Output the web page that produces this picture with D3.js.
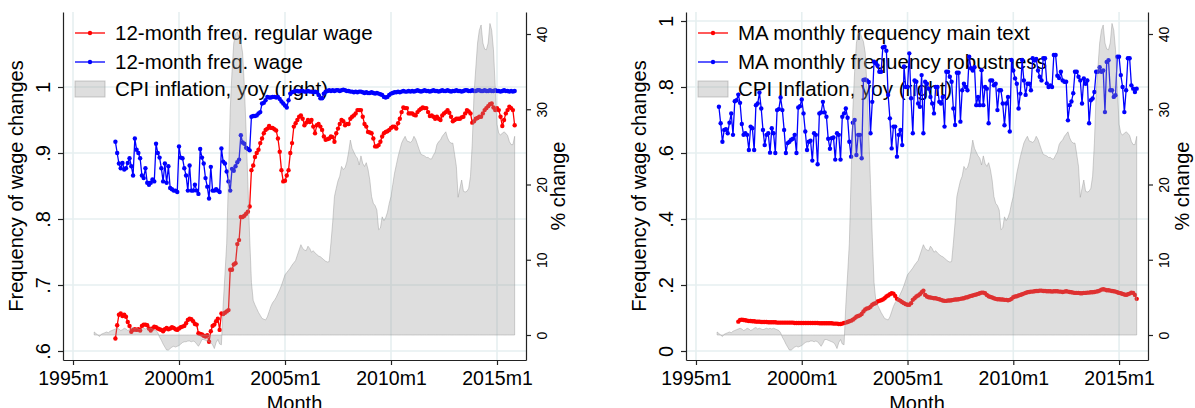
<!DOCTYPE html>
<html>
<head>
<meta charset="utf-8">
<script src="https://cdnjs.cloudflare.com/ajax/libs/d3/7.8.5/d3.min.js"></script>
<style>
body { margin: 0; background: #fff; }
text { font-family: 'Liberation Sans', Arial, Helvetica, sans-serif; fill: #000; }
</style>
</head>
<body>
<div id="visual"></div>
<script>
// x axis
var xTickYears = [1995, 2000, 2005, 2010, 2015];
var xTickLabels = ['1995m1', '2000m1', '2005m1', '2010m1', '2015m1'];

// y ticks
var leftTicks = [0.6, 0.7, 0.8, 0.9, 1];
var leftTickLabels = ['.6', '.7', '.8', '.9', '1'];
var rightPanelTicks = [0, 0.2, 0.4, 0.6, 0.8, 1];
var rightPanelTickLabels = ['0', '.2', '.4', '.6', '.8', '1'];
var cpiTicks = [0, 10, 20, 30, 40];

var legendLeft = ['12-month freq. regular wage', '12-month freq. wage', 'CPI inflation, yoy (right)'];
var legendRight = ['MA monthly frequency main text', 'MA monthly frequency robustness', 'CPI Inflation, yoy (right)'];

// monthly, 1997m1 - 2015m11
var freqStart = [1997, 1];
var freqRegular = [
    .619, .639, .655, .657, .653, .655, .652, .644, .638, .629, .632, .633,
    .632, .633, .631, .638, .640, .640, .639, .634, .631, .634, .637, .636,
    .634, .633, .632, .630, .633, .635, .633, .634, .636, .635, .633, .632,
    .634, .636, .637, .638, .642, .647, .649, .648, .645, .641, .640, .627,
    .626, .625, .623, .622, .624, .614, .630, .638, .640, .645, .649, .632,
    .657, .656, .658, .660, .662, .723, .723, .731, .733, .762, .768, .803,
    .803, .805, .808, .811, .819, .874, .881, .894, .900, .905, .915, .922,
    .930, .935, .937, .941, .938, .938, .936, .934, .922, .902, .874, .857,
    .858, .866, .874, .900, .915, .940, .945, .950, .955, .957, .952, .942,
    .946, .950, .947, .950, .940, .930, .942, .944, .940, .935, .925, .920,
    .921, .922, .925, .924, .917, .930, .937, .944, .950, .948, .942, .944,
    .944, .952, .955, .957, .960, .965, .965, .965, .955, .944, .940, .932,
    .931, .930, .922, .910, .910, .912, .917, .925, .930, .932, .933, .935,
    .938, .940, .940, .937, .945, .952, .962, .969, .968, .968, .960, .960,
    .960, .958, .957, .962, .965, .967, .969, .968, .968, .962, .956, .957,
    .955, .952, .955, .952, .950, .957, .960, .962, .965, .961, .955, .948,
    .950, .952, .952, .952, .954, .955, .960, .965, .963, .960, .946, .948,
    .952, .953, .955, .955, .960, .965, .968, .971, .974, .975, .969, .965,
    .968, .965, .955, .941, .950, .960, .965, .970, .968, .965, .942
];
var freqWage = [
    .917, .900, .884, .877, .885, .875, .877, .885, .892, .880, .866, .922,
    .905, .900, .892, .866, .862, .877, .855, .852, .855, .860, .857, .914,
    .900, .893, .877, .857, .884, .855, .880, .847, .845, .843, .843, .841,
    .910, .893, .892, .877, .866, .843, .881, .843, .843, .852, .843, .838,
    .906, .893, .884, .862, .849, .831, .879, .843, .843, .845, .843, .841,
    .907, .887, .884, .872, .857, .843, .876, .873, .880, .886, .890, .927,
    .916, .914, .908, .906, .904, .955, .956, .956, .957, .960, .962, .975,
    .976, .980, .985, .984, .984, .985, .985, .984, .985, .982, .978, .975,
    .972, .969, .980, .990, .992, .993, .994, .994, .993, .994, .994, .993,
    .993, .994, .993, .993, .992, .993, .992, .988, .983, .983, .990, .993,
    .994, .995, .994, .995, .994, .995, .995, .994, .995, .996, .995, .994,
    .994, .993, .993, .992, .993, .992, .993, .993, .992, .991, .992, .991,
    .991, .992, .991, .990, .991, .990, .989, .988, .985, .984, .985, .988,
    .990, .991, .992, .992, .993, .992, .993, .994, .993, .993, .994, .993,
    .994, .993, .994, .995, .994, .993, .994, .995, .994, .994, .993, .994,
    .995, .994, .994, .993, .994, .995, .994, .994, .995, .994, .993, .994,
    .994, .995, .994, .994, .993, .994, .995, .995, .994, .994, .995, .994,
    .994, .995, .995, .994, .994, .995, .994, .994, .995, .994, .994, .995,
    .994, .994, .993, .994, .995, .994, .994, .993, .994, .993, .994
];

// monthly, 1997m1 - 2015m11
var maMainStart = [1997, 1];
var maMain = [
    .089, .094, .095, .094, .093, .092, .091, .091, .090, .090, .089, .089,
    .089, .088, .088, .088, .088, .087, .087, .087, .087, .087, .086, .086,
    .086, .086, .086, .086, .086, .086, .086, .086, .085, .085, .085, .085,
    .085, .085, .085, .085, .085, .085, .085, .085, .085, .085, .084, .084,
    .084, .084, .084, .084, .084, .084, .083, .083, .083, .082, .082, .083,
    .085, .086, .088, .090, .092, .095, .099, .104, .106, .108, .112, .120,
    .126, .129, .130, .134, .140, .143, .145, .150, .152, .154, .156, .160,
    .165, .168, .172, .175, .174, .167, .158, .155, .152, .148, .145, .142,
    .140, .140, .145, .155, .160, .165, .168, .172, .178, .183, .170, .165,
    .163, .162, .161, .160, .160, .158, .157, .155, .153, .152, .152, .153,
    .153, .154, .155, .156, .156, .157, .158, .159, .160, .162, .163, .165,
    .167, .168, .170, .171, .173, .175, .177, .177, .175, .170, .166, .164,
    .162, .160, .158, .157, .157, .156, .156, .155, .155, .154, .155, .158,
    .163, .165, .166, .168, .170, .172, .174, .176, .178, .179, .180, .180,
    .181, .182, .182, .183, .183, .182, .182, .181, .181, .181, .180, .181,
    .181, .181, .180, .180, .179, .180, .181, .180, .179, .178, .177, .176,
    .176, .176, .175, .175, .176, .176, .177, .177, .178, .178, .179, .180,
    .181, .183, .186, .187, .186, .184, .184, .183, .182, .181, .180, .178,
    .176, .175, .173, .171, .170, .172, .174, .177, .176, .170, .158
];

// monthly, 1996m2 - 2015m11
var maRobustStart = [1996, 2];
var maRobust = [
    .740, .690, .634, .670, .672, .660, .692, .720, .655, .757,
    .760, .777, .752, .688, .655, .660, .655, .609, .680, .675,
    .609, .745, .750, .783, .735, .670, .624, .655, .660, .601,
    .675, .660, .600, .730, .733, .768, .730, .670, .600, .630,
    .634, .640, .643, .655, .600, .738, .742, .762, .720, .665,
    .609, .634, .637, .577, .660, .655, .566, .720, .723, .755,
    .723, .710, .643, .613, .645, .647, .580, .660, .655, .580,
    .710, .720, .735, .707, .634, .589, .692, .700, .594, .655,
    .655, .584, .821, .823, .820, .815, .660, .755, .877, .872,
    .865, .846, .846, .920, .922, .910, .776, .705, .614, .680,
    .680, .589, .655, .670, .624, .862, .800, .800, .902, .766,
    .660, .820, .816, .750, .740, .836, .660, .816, .810, .795,
    .770, .750, .720, .800, .800, .755, .750, .770, .680, .846,
    .846, .831, .816, .735, .685, .843, .843, .695, .790, .810,
    .800, .790, .892, .857, .850, .860, .745, .770, .745, .851,
    .745, .800, .795, .690, .820, .820, .805, .810, .730, .790,
    .790, .750, .684, .750, .770, .665, .882, .850, .826, .810,
    .735, .780, .882, .820, .776, .810, .810, .790, .887, .880,
    .885, .850, .831, .820, .887, .887, .811, .800, .805, .800,
    .897, .897, .834, .827, .846, .820, .816, .816, .699, .745,
    .756, .781, .846, .846, .831, .820, .750, .826, .810, .820,
    .690, .760, .765, .785, .846, .846, .860, .846, .850, .724,
    .876, .881, .790, .790, .770, .775, .892, .892, .836, .800,
    .724, .790, .887, .887, .805, .795, .785, .795
];

// CPI inflation yoy, %, monthly, 1996m1 - 2015m11
var cpiStart = [1996, 1];
var cpiYoy = [
    .4, .2, 0, -.2, .1, .2, .3, .4, .3, .5, .6, .7,
    .8, .9, .8, .6, .7, .9, .8, .6, .7, .9, 1.0, .8,
    .9, .8, .7, .8, .9, .8, .9, .8, .9, .8, .7, .6,
    .3, -.3, -.7, -1.2, -1.6, -2.0, -2.0, -1.8, -1.6, -1.5, -1.6, -1.5,
    -1.4, -1.2, -1.0, -.9, -.9, -.8, -.8, -.9, -.8, -.9, -1.2, -1.5,
    -1.1, -.6, -.6, -.7, -.8, -.9, -1.0, -1.3, -1.8, -1.0, -.6, -1.2,
    -1.3, 4, 8, 12.2, 21, 30, 35, 38.8, 40, 40.3, 39.5, 39,
    37.5, 33, 27, 20, 13, 7, 4.6, 4.0, 3.5, 3.0, 2.6, 2.2,
    2.1, 2.0, 2.4, 3.1, 3.8, 4.3, 4.6, 5.0, 5.5, 6.0, 6.6, 7.3,
    8.0, 8.3, 8.6, 8.9, 9.3, 9.6, 9.9, 10.6, 11.3, 12, 11.5, 11.3,
    11.2, 11.8, 11.5, 11, 11.2, 10.9, 10.7, 10.5, 10.4, 10.2, 10, 9.8,
    9.7, 9.75, 12.2, 15, 18.4, 19.5, 20.5, 21.1, 22.4, 22, 22.2, 23,
    24.3, 25.9, 24.8, 24.3, 23.8, 23.5, 22.6, 23.8, 22.8, 22.4, 22.9, 22,
    20.6, 18.4, 17.5, 17.2, 16.6, 14, 14.2, 15.7, 15.2, 15.6, 16.3, 17.5,
    18.4, 20, 21.5, 22.6, 23.7, 24.6, 25.5, 26, 26.4, 25.8, 25.7, 25.6,
    25.8, 26.4, 26, 25.3, 24.6, 24, 23.9, 23.8, 23.6, 23.6, 23.4, 23.4,
    23.9, 24.3, 25.3, 25.7, 25.9, 26.4, 26.7, 27, 26.2, 25.7, 25.5, 25.5,
    24, 22.4, 18.3, 19.5, 20.6, 19.1, 19, 19.1, 19.5, 21.1, 25.5, 32.1,
    35.5, 38.8, 40.5, 41.2, 38.8, 38, 37.9, 38.8, 41.4, 40.5, 37.9, 33,
    28, 26.8, 26.6, 26.8, 27, 26.8, 26.5, 25.7, 25.3, 25.3, 26.4
];

var width = 1195, height = 408;
var plotTop = 12, plotBottom = 360;
var gridColour = '#e6eff0';

var svg = d3.select('#visual')
    .append('svg')
    .attr('width', width)
    .attr('height', height);

function toSeries(start, values) {
    return values.map(function (v, i) {
        return { t: start[0] + (start[1] - 1 + i) / 12, v: v };
    });
}

var cpiData = toSeries(cpiStart, cpiYoy);

var panels = [
    {
        left: 63, right: 526,
        yDomain: [0.6 - 9 / 660, 1 + 75 / 660],
        yTicks: leftTicks, yTickLabels: leftTickLabels,
        legend: legendLeft,
        series: [
            { data: toSeries(freqStart, freqRegular), colour: '#ff0000' },
            { data: toSeries(freqStart, freqWage), colour: '#0000ff' }
        ],
        titleX: 23, title2X: 565
    },
    {
        left: 686, right: 1148,
        yDomain: [-9 / 330, 1 + 9 / 330],
        yTicks: rightPanelTicks, yTickLabels: rightPanelTickLabels,
        legend: legendRight,
        series: [
            { data: toSeries(maMainStart, maMain), colour: '#ff0000' },
            { data: toSeries(maRobustStart, maRobust), colour: '#0000ff' }
        ],
        titleX: 646, title2X: 1189
    }
];

function drawPanel(p) {
    var g = svg.append('g');

    var x = d3.scaleLinear().domain([1994.528, 2016.368]).range([p.left, p.right]);
    var y = d3.scaleLinear().domain(p.yDomain).range([plotBottom, plotTop]);
    var y2 = d3.scaleLinear().domain([-25 / 7.525, 40 + 22 / 7.525]).range([plotBottom, plotTop]);

    // grid
    g.selectAll('.hgrid').data(p.yTicks).enter().append('line')
        .attr('x1', p.left).attr('x2', p.right)
        .attr('y1', function (d) { return y(d); })
        .attr('y2', function (d) { return y(d); })
        .attr('stroke', gridColour).attr('stroke-width', 1.6);
    g.selectAll('.vgrid').data(xTickYears).enter().append('line')
        .attr('x1', function (d) { return x(d); })
        .attr('x2', function (d) { return x(d); })
        .attr('y1', plotTop).attr('y2', plotBottom)
        .attr('stroke', gridColour).attr('stroke-width', 1.6);

    // legend
    var rows = [33, 62, 89];
    var lx = p.left + 12;
    var leg = g.append('g');
    p.series.forEach(function (s, i) {
        leg.append('line')
            .attr('x1', lx).attr('x2', lx + 30)
            .attr('y1', rows[i]).attr('y2', rows[i])
            .attr('stroke', s.colour).attr('stroke-width', 1.3);
        leg.append('circle')
            .attr('cx', lx + 15).attr('cy', rows[i]).attr('r', 2.2)
            .attr('fill', s.colour);
    });
    leg.append('rect')
        .attr('x', lx).attr('y', rows[2] - 8)
        .attr('width', 30).attr('height', 16)
        .attr('fill', '#999').attr('fill-opacity', 0.32)
        .attr('stroke', '#999').attr('stroke-opacity', 0.5);
    leg.selectAll('text').data(p.legend).enter().append('text')
        .attr('x', lx + 40)
        .attr('y', function (d, i) { return rows[i] + 7; })
        .attr('font-size', '20.5px')
        .text(function (d) { return d; });

    // series
    var line = d3.line()
        .x(function (d) { return x(d.t); })
        .y(function (d) { return y(d.v); });

    p.series.forEach(function (s) {
        g.append('path')
            .datum(s.data)
            .attr('d', line)
            .attr('fill', 'none')
            .attr('stroke', s.colour)
            .attr('stroke-width', 1.3);
        g.append('g').selectAll('circle').data(s.data).enter().append('circle')
            .attr('cx', function (d) { return x(d.t); })
            .attr('cy', function (d) { return y(d.v); })
            .attr('r', 2.2)
            .attr('fill', s.colour);
    });

    // CPI area on top, transparent
    var area = d3.area()
        .x(function (d) { return x(d.t); })
        .y0(y2(0))
        .y1(function (d) { return y2(d.v); });

    g.append('path')
        .datum(cpiData)
        .attr('d', area)
        .attr('fill', '#999')
        .attr('fill-opacity', 0.32)
        .attr('stroke', '#999')
        .attr('stroke-opacity', 0.45)
        .attr('stroke-width', 1);

    // axes
    var yAxis = d3.axisLeft(y)
        .tickValues(p.yTicks)
        .tickFormat(function (d, i) { return p.yTickLabels[i]; })
        .tickSize(5).tickSizeOuter(0);
    var yAxisG = g.append('g')
        .attr('transform', 'translate(' + p.left + ',0)')
        .call(yAxis);
    yAxisG.selectAll('text')
        .attr('x', 0).attr('dy', 0)
        .attr('text-anchor', 'middle')
        .attr('transform', 'translate(-13,0) rotate(-90)')
        .attr('font-size', '20px');

    var y2Axis = d3.axisRight(y2)
        .tickValues(cpiTicks)
        .tickSize(5).tickSizeOuter(0);
    var y2AxisG = g.append('g')
        .attr('transform', 'translate(' + p.right + ',0)')
        .call(y2Axis);
    y2AxisG.selectAll('text')
        .attr('x', 0).attr('dy', 0)
        .attr('text-anchor', 'middle')
        .attr('transform', 'translate(21,0) rotate(-90)')
        .attr('font-size', '14px');

    var xAxis = d3.axisBottom(x)
        .tickValues(xTickYears)
        .tickFormat(function (d, i) { return xTickLabels[i]; })
        .tickSize(5).tickSizeOuter(0);
    var xAxisG = g.append('g')
        .attr('transform', 'translate(0,' + plotBottom + ')')
        .call(xAxis);
    xAxisG.selectAll('text')
        .attr('y', 25).attr('dy', 0)
        .attr('font-size', '19.5px');

    [yAxisG, y2AxisG, xAxisG].forEach(function (a) {
        a.selectAll('.domain').attr('stroke', '#222').attr('stroke-width', 1.2);
        a.selectAll('.tick line').attr('stroke', '#222').attr('stroke-width', 1.2);
        a.selectAll('text').attr('fill', '#000').attr('font-family', null);
    });

    // titles
    var midY = (plotTop + plotBottom) / 2;
    g.append('text')
        .attr('transform', 'translate(' + p.titleX + ',' + midY + ') rotate(-90)')
        .attr('text-anchor', 'middle')
        .attr('font-size', '20px')
        .text('Frequency of wage changes');
    g.append('text')
        .attr('transform', 'translate(' + p.title2X + ',' + midY + ') rotate(-90)')
        .attr('text-anchor', 'middle')
        .attr('font-size', '20px')
        .text('% change');
    g.append('text')
        .attr('x', (p.left + p.right) / 2)
        .attr('y', 410)
        .attr('text-anchor', 'middle')
        .attr('font-size', '20px')
        .text('Month');
}

panels.forEach(drawPanel);
</script>
</body>
</html>
